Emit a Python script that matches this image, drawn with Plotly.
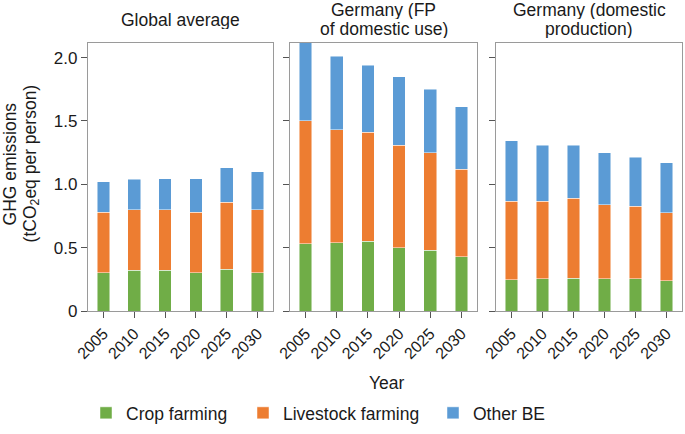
import plotly.graph_objects as go

years = ["2005", "2010", "2015", "2020", "2025", "2030"]
panel_titles = [["Global average"], ["Germany (FP", "of domestic use)"], ["Germany (domestic", "production)"]]
series_names = ["Crop farming", "Livestock farming", "Other BE"]
y_title_lines = ["GHG emissions", "(tCO<sub>2</sub>eq per person)"]
x_title = "Year"

crop_global = [0.30, 0.32, 0.32, 0.30, 0.33, 0.30]
livestock_global = [0.48, 0.48, 0.48, 0.48, 0.53, 0.50]
other_global = [0.24, 0.24, 0.245, 0.265, 0.27, 0.30]

crop_fp = [0.53, 0.54, 0.55, 0.50, 0.48, 0.43]
livestock_fp = [0.97, 0.89, 0.86, 0.81, 0.77, 0.69]
other_fp = [0.65, 0.58, 0.53, 0.54, 0.50, 0.49]

crop_dp = [0.245, 0.255, 0.26, 0.255, 0.255, 0.24]
livestock_dp = [0.62, 0.61, 0.63, 0.585, 0.57, 0.535]
other_dp = [0.48, 0.445, 0.42, 0.41, 0.39, 0.395]

y_ticks = [0, 0.5, 1.0, 1.5, 2.0]
y_ticktext = ["0", "0.5", "1.0", "1.5", "2.0"]

colors = ["#70ad47", "#ed7d31", "#5b9bd5"]
FONT = "Liberation Sans, Arial, Helvetica, sans-serif"
TXT = "#1a1a1a"

panels = [
    (crop_global, livestock_global, other_global),
    (crop_fp, livestock_fp, other_fp),
    (crop_dp, livestock_dp, other_dp),
]

W, H = 685, 434
PLOT_L, PLOT_R, PLOT_T, PLOT_B = 88, 682, 43, 319
L, T = PLOT_L, PLOT_T
R, B = W - PLOT_R, H - PLOT_B
pw = PLOT_R - PLOT_L
ph = PLOT_B - PLOT_T
px_domains = [(88, 273), (290, 477), (496, 682)]
domains = [((a - PLOT_L) / pw, (b - PLOT_L) / pw) for a, b in px_domains]


def px_x(x):
    return (x - PLOT_L) / pw


def px_y(y):
    return (PLOT_B - y) / ph


legend_ids = ["legend", "legend2", "legend3"]
legend_x = [86, 243, 433]

fig = go.Figure()
for i, data in enumerate(panels):
    xa = "x" if i == 0 else f"x{i+1}"
    ya = "y" if i == 0 else f"y{i+1}"
    for j, vals in enumerate(data):
        fig.add_trace(go.Bar(
            x=years, y=vals, name=series_names[j],
            marker=dict(color=colors[j], line=dict(color="rgba(255,255,255,0.6)", width=0.8)),
            width=0.41, xaxis=xa, yaxis=ya,
            showlegend=(i == 0), legend=legend_ids[j],
        ))

layout = dict(
    width=W, height=H,
    margin=dict(l=L, r=R, t=T, b=B, pad=0),
    barmode="stack",
    plot_bgcolor="white", paper_bgcolor="white",
    font=dict(family=FONT, color=TXT, size=16),
)
for j, lid in enumerate(legend_ids):
    layout[lid] = dict(orientation="h", x=px_x(legend_x[j]), xanchor="left",
                       y=px_y(424), yanchor="middle",
                       font=dict(size=17.5, family=FONT, color=TXT),
                       bgcolor="rgba(0,0,0,0)")

for i in range(3):
    xk = "xaxis" if i == 0 else f"xaxis{i+1}"
    yk = "yaxis" if i == 0 else f"yaxis{i+1}"
    ya = "y" if i == 0 else f"y{i+1}"
    xa = "x" if i == 0 else f"x{i+1}"
    layout[xk] = dict(
        domain=list(domains[i]), anchor=ya, type="category",
        range=[-0.5, 5.5], showline=True, linecolor="#9a9a9a", linewidth=1.2, mirror=True,
        ticks="outside", ticklen=6, tickcolor="#555555", tickwidth=1,
        tickangle=-45, tickfont=dict(size=16, family=FONT, color=TXT),
        showgrid=False, zeroline=False, fixedrange=True,
    )
    layout[yk] = dict(
        domain=[0, 1], anchor=xa, range=[0, 2.115],
        showline=True, linecolor="#9a9a9a", linewidth=1.2, mirror=True,
        ticks="outside", ticklen=6, tickcolor="#555555", tickwidth=1,
        tickvals=y_ticks, ticktext=y_ticktext, showticklabels=(i == 0),
        tickfont=dict(size=17, family=FONT, color=TXT),
        showgrid=False, zeroline=False, fixedrange=True,
    )

fig.update_layout(**layout)

annotations = []
for i, lines in enumerate(panel_titles):
    cx = (px_domains[i][0] + px_domains[i][1]) / 2
    ys = [19] if len(lines) == 1 else [9.5, 28.5]
    for line, yy in zip(lines, ys):
        annotations.append(dict(
            text=line, x=px_x(cx), y=px_y(yy), xref="paper", yref="paper",
            xanchor="center", yanchor="middle", showarrow=False, height=18,
            font=dict(size=17.5, family=FONT, color=TXT),
        ))
for line, xx in zip(y_title_lines, [10, 31]):
    annotations.append(dict(
        text=line, textangle=-90,
        x=px_x(xx), y=px_y(167), xref="paper", yref="paper",
        xanchor="center", yanchor="middle", showarrow=False,
        font=dict(size=17.5, family=FONT, color=TXT),
    ))
annotations.append(dict(
    text=x_title, x=px_x(387), y=px_y(393), xref="paper", yref="paper",
    xanchor="center", yanchor="middle", showarrow=False,
    font=dict(size=17.5, family=FONT, color=TXT),
))
fig.update_layout(annotations=annotations)

fig.write_html("out.html",
               config={"displayModeBar": False},
               post_script="document.body.style.margin='0';document.body.style.padding='0';")
